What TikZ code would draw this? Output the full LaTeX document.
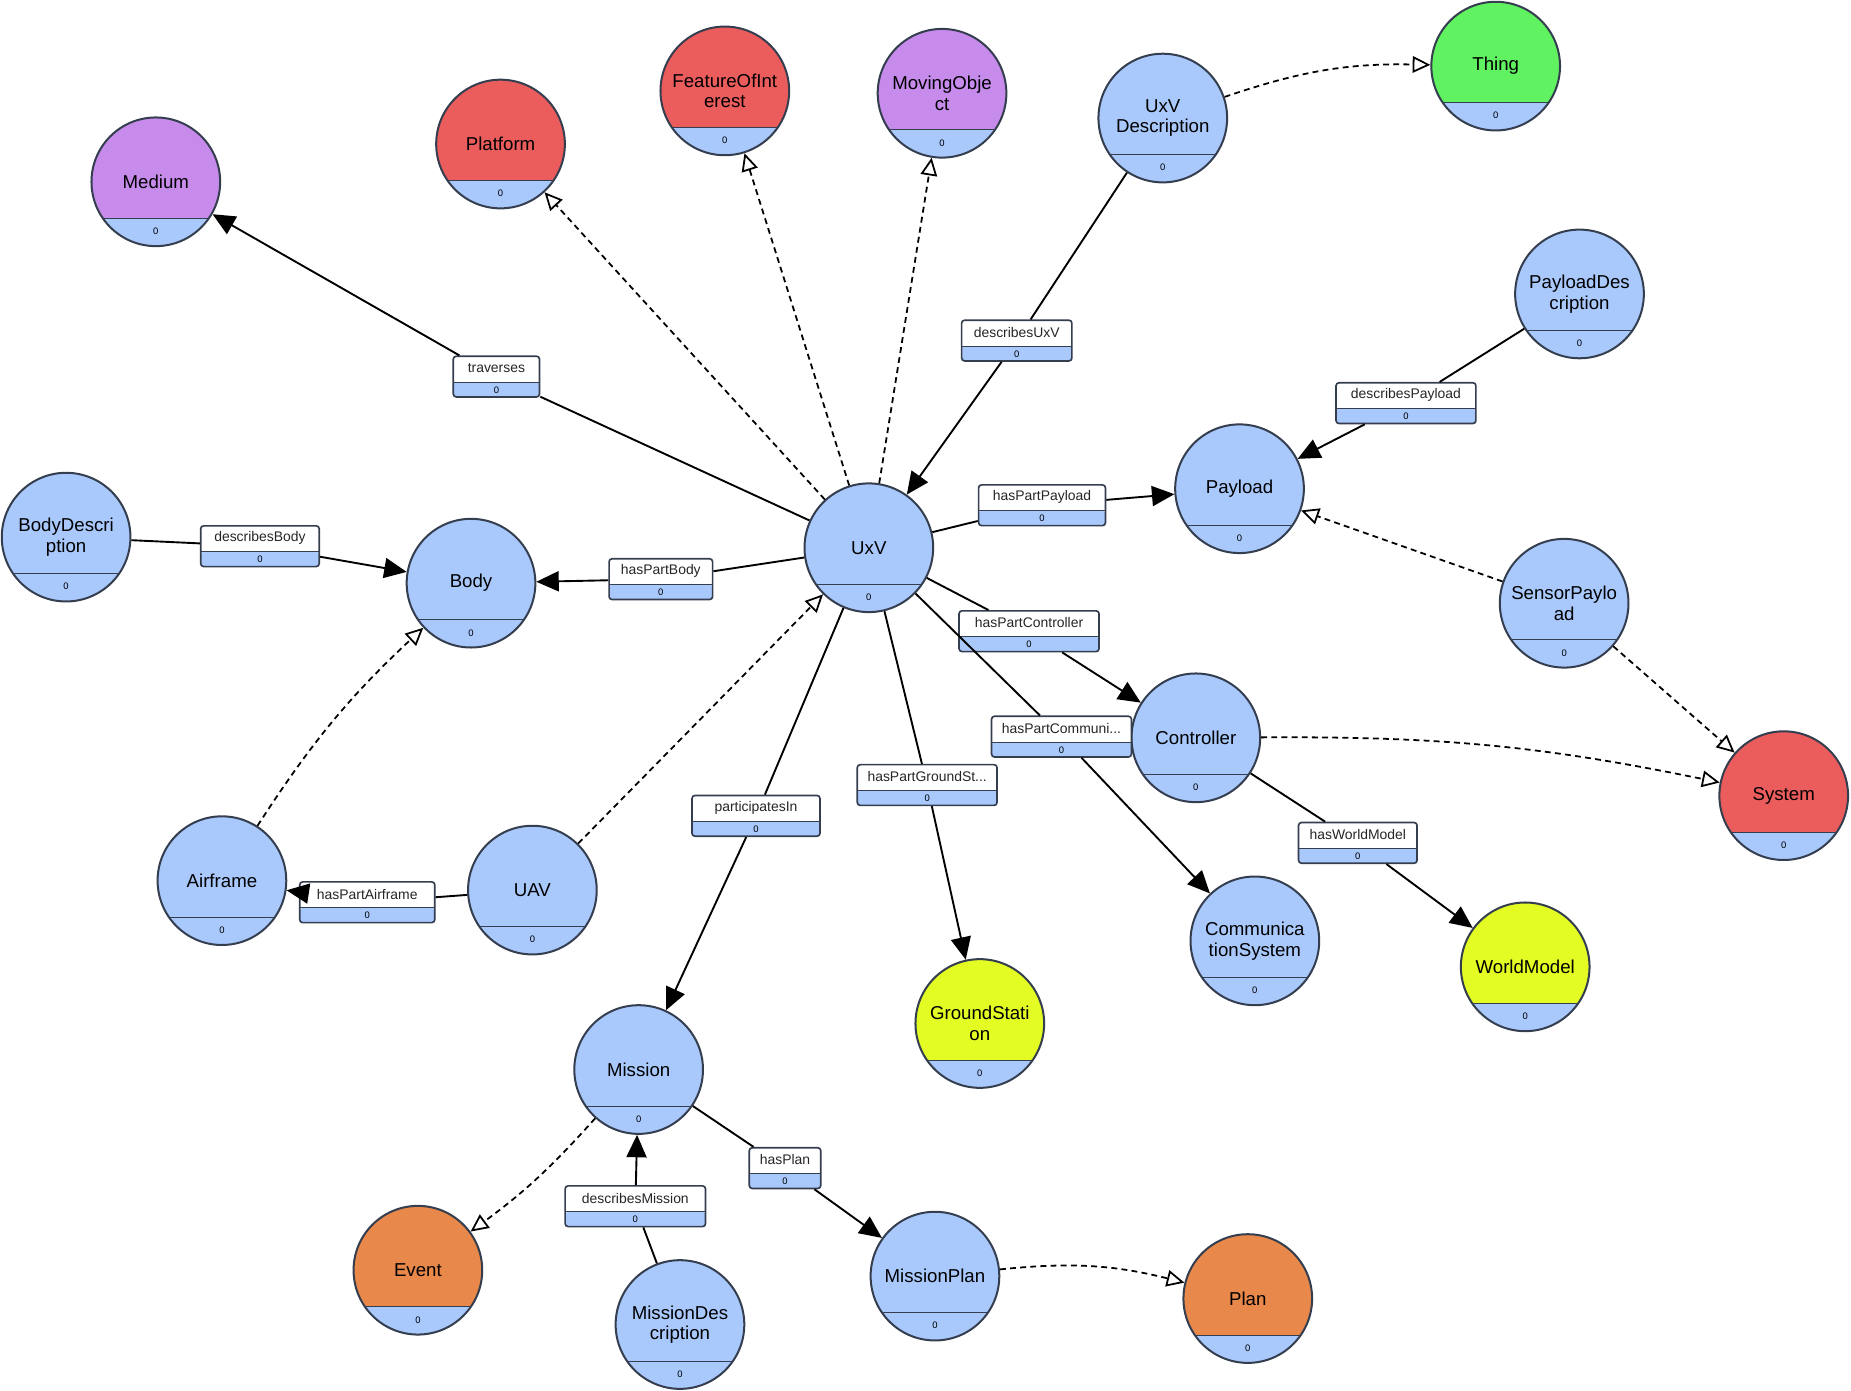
\documentclass[tikz,border=0pt]{standalone}
\usepackage{fontspec}
\setmainfont{Liberation Sans}
\usetikzlibrary{arrows.meta}
\definecolor{cblue}{RGB}{169,201,253}
\definecolor{cpurple}{RGB}{199,139,236}
\definecolor{cred}{RGB}{235,92,92}
\definecolor{cgreen}{RGB}{96,242,96}
\definecolor{cyellow}{RGB}{226,252,36}
\definecolor{corange}{RGB}{232,136,74}
\definecolor{cborder}{RGB}{52,62,78}
\tikzset{
  cls/.style={circle, draw=cborder, line width=1.7pt, minimum size=109pt, inner sep=0pt,
    fill=#1, align=center, font=\fontsize{15.8}{17.5}\selectfont,
    path picture={
      \fill[cblue] ([yshift=-31pt]path picture bounding box.center) ++(-70pt,0pt) rectangle ++(140pt,-50pt);
      \draw[cborder, line width=0.9pt] ([yshift=-31pt]path picture bounding box.center) ++(-70pt,0pt) -- ++(140pt,0pt);
    }},
  zerotext/.style={font=\fontsize{8}{8}\selectfont, inner sep=0pt},
  ebox/.style={rectangle, draw=cborder, line width=1.4pt, rounded corners=2.5pt, fill=white,
    minimum height=34.5pt, inner sep=0pt,
    path picture={
      \fill[cblue] (path picture bounding box.south west) rectangle ([yshift=12.5pt]path picture bounding box.south east);
      \draw[cborder, line width=0.8pt] ([yshift=12.5pt]path picture bounding box.south west) -- ([yshift=12.5pt]path picture bounding box.south east);
    }},
  etext/.style={font=\fontsize{11.8}{12}\selectfont, inner sep=0pt, text=black!85},
  rel/.style={line width=1.6pt, -{Triangle[length=19pt, width=17pt]}},
  relline/.style={line width=1.6pt},
  sub/.style={line width=1.5pt, dash pattern=on 5pt off 3.6pt, -{Triangle[open, length=15pt, width=14pt, fill=white]}},
}
\newcommand\cnode[5]{%
  \node[cls=#4] (#1) at (#2,#3) {#5};
  \node[zerotext] at ([yshift=-42pt]#1.center) {0};
}
\newcommand\elab[5]{%
  \node[ebox, minimum width=#4pt] (#1) at (#2,#3) {};
  \node[etext] at ([yshift=-11pt]#1.north) {#5};
  \node[zerotext] at ([yshift=6.6pt]#1.south) {0};
}
\begin{document}
\begin{tikzpicture}[x=1pt, y=-1pt]
\useasboundingbox (0,0) rectangle (1568,1178.3);
% class nodes
\cnode{medium}{132}{154}{cpurple}{Medium}
\cnode{platform}{424}{122}{cred}{Platform}
\cnode{foi}{614}{77}{cred}{FeatureOfInt\\erest}
\cnode{mo}{798}{79}{cpurple}{MovingObje\\ct}
\cnode{uxvd}{985}{100}{cblue}{UxV\\Description}
\cnode{thing}{1267}{56}{cgreen}{Thing}
\cnode{pd}{1338}{249}{cblue}{PayloadDes\\cription}
\cnode{payload}{1050}{414}{cblue}{Payload}
\cnode{sp}{1325}{511}{cblue}{SensorPaylo\\ad}
\cnode{system}{1511}{674}{cred}{System}
\cnode{controller}{1013}{625}{cblue}{Controller}
\cnode{wm}{1292}{819}{cyellow}{WorldModel}
\cnode{comm}{1063}{797}{cblue}{Communica\\tionSystem}
\cnode{gs}{830}{867}{cyellow}{GroundStati\\on}
\cnode{uxv}{736}{464}{cblue}{UxV}
\cnode{body}{399}{494}{cblue}{Body}
\cnode{bd}{56}{455}{cblue}{BodyDescri\\ption}
\cnode{airframe}{188}{746}{cblue}{Airframe}
\cnode{uav}{451}{754}{cblue}{UAV}
\cnode{mission}{541}{906}{cblue}{Mission}
\cnode{event}{354}{1076}{corange}{Event}
\cnode{md}{576}{1122}{cblue}{MissionDes\\cription}
\cnode{mp}{792}{1081}{cblue}{MissionPlan}
\cnode{plan}{1057}{1100}{corange}{Plan}
% edge labels
\elab{ltrav}{420.5}{319}{73}{traverses}
\elab{ldux}{861.3}{288.5}{93.4}{describesUxV}
\elab{ldpay}{1191}{341.5}{118.5}{describesPayload}
\elab{lhpp}{882.7}{428}{107.5}{hasPartPayload}
\elab{lhpc}{871.7}{534.7}{118.6}{hasPartController}
\elab{lhpb}{559.8}{490.6}{87.7}{hasPartBody}
\elab{ldb}{220.2}{462.7}{100.4}{describesBody}
\elab{lhpcom}{899.2}{624}{118.5}{hasPartCommuni...}
\elab{lhpgs}{785.4}{665}{118.4}{hasPartGroundSt...}
\elab{lhwm}{1150.2}{714}{100.4}{hasWorldModel}
\elab{lpi}{640.4}{691.1}{108.4}{participatesIn}
\elab{lhpa}{311.1}{764.3}{114.4}{hasPartAirframe}
\elab{ldm}{538.2}{1021.8}{118.9}{describesMission}
\elab{lhpl}{665}{989.5}{60.5}{hasPlan}
% labelled relations
\draw[relline] (uxv) -- (ltrav); \draw[rel] (ltrav) -- (medium);
\draw[relline] (uxvd) -- (ldux); \draw[rel] (ldux) -- (uxv);
\draw[relline] (pd) -- (ldpay); \draw[rel] (ldpay) -- (payload);
\draw[relline] (uxv) -- (lhpp); \draw[rel] (lhpp) -- (payload);
\draw[relline] (uxv) -- (lhpc); \draw[rel] (lhpc) -- (controller);
\draw[relline] (uxv) -- (lhpb); \draw[rel] (lhpb) -- (body);
\draw[relline] (bd) -- (ldb); \draw[rel] (ldb) -- (body);
\draw[relline] (uxv) -- (lhpcom); \draw[rel] (lhpcom) -- (comm);
\draw[relline] (uxv) -- (lhpgs); \draw[rel] (lhpgs) -- (gs);
\draw[relline] (controller) -- (lhwm); \draw[rel] (lhwm) -- (wm);
\draw[relline] (uxv) -- (lpi); \draw[rel] (lpi) -- (mission);
\draw[relline] (uav) -- (lhpa); \draw[rel] (lhpa) -- (airframe);
\draw[relline] (md) -- (ldm); \draw[rel] (ldm) -- (mission);
\draw[relline] (mission) -- (lhpl); \draw[rel] (lhpl) -- (mp);
% subclass relations
\draw[sub] (uxv) -- (platform);
\draw[sub] (uxv) -- (foi);
\draw[sub] (uxv) -- (mo);
\draw[sub] (uxvd) to[bend left=10] (thing);
\draw[sub] (sp) -- (payload);
\draw[sub] (sp) -- (system);
\draw[sub] (controller) to[bend left=6] (system);
\draw[sub] (airframe) to[bend left=7] (body);
\draw[sub] (uav) -- (uxv);
\draw[sub] (mission) to[bend left=6] (event);
\draw[sub] (mp) to[bend left=10] (plan);
\end{tikzpicture}
\end{document}
